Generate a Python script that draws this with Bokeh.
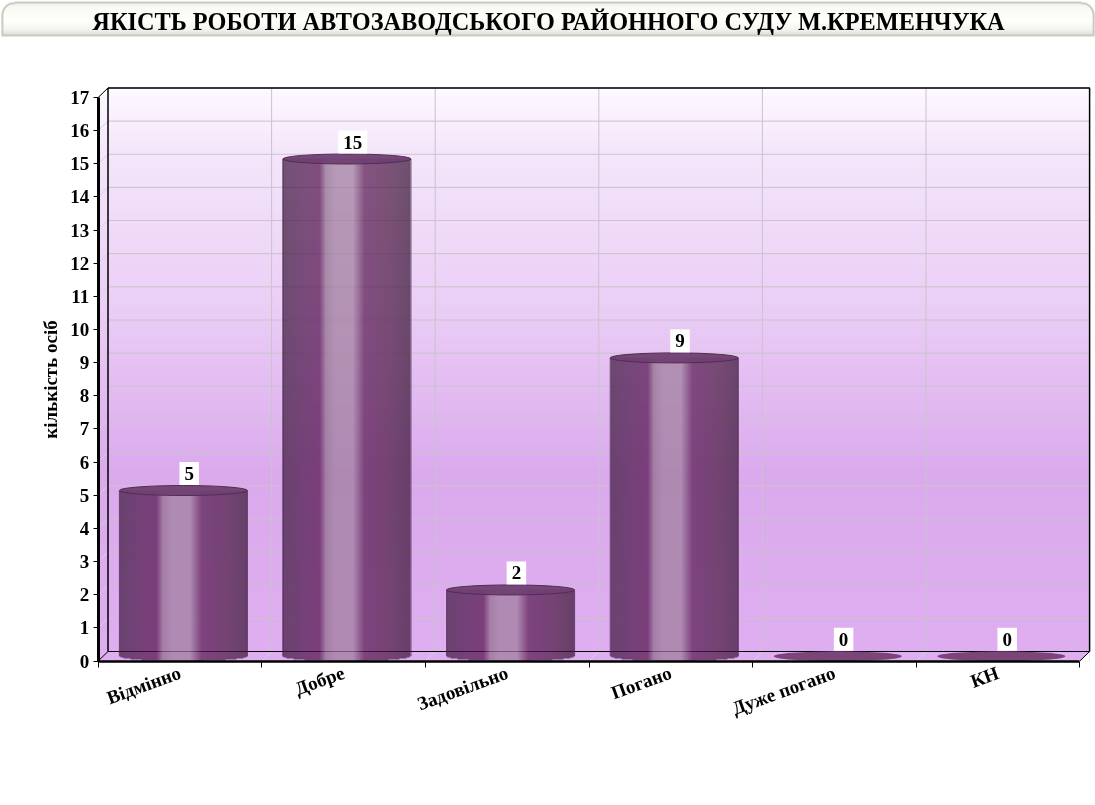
import math
import numpy as np
from bokeh.embed import file_html
from bokeh.resources import INLINE
from bokeh.models import Range1d, LinearAxis, FixedTicker
from bokeh.plotting import figure
from bokeh.core.properties import value

title_text = "ЯКІСТЬ РОБОТИ АВТОЗАВОДСЬКОГО РАЙОННОГО СУДУ М.КРЕМЕНЧУКА"
y_title = "кількість осіб"
categories = ["Відмінно", "Добре", "Задовільно", "Погано", "Дуже погано", "КН"]
counts = [5, 15, 2, 9, 0, 0]
y_ticks = list(range(0, 18))

W, H = 1095, 805
X0, SLOT = 97.7, 163.6
Y0, UNIT = 660.5, 33.15
DX, DY = 9.8, 9.5
BAR_SHIFT = 3.4
FONT = value("Liberation Serif")

def dx(px): return (px - X0) / SLOT
def dy(py): return (Y0 - py) / UNIT
def w(px): return px / SLOT
def h(px): return px / UNIT

p = figure(width=W, height=H, output_backend="svg", toolbar_location=None,
           x_range=Range1d(dx(0), dx(W)), y_range=Range1d(dy(H), dy(0)),
           x_axis_type=None, y_axis_type=None, min_border=0,
           outline_line_color=None, background_fill_color="white",
           border_fill_color="white")
p.grid.visible = False
p.styles = {"position": "fixed", "left": "0px", "top": "0px"}

def mix(a, b, t):
    return tuple(a[i] + (b[i] - a[i]) * t for i in range(3))

def hexc(c):
    return "#%02x%02x%02x" % tuple(max(0, min(255, int(round(v)))) for v in c)

def ramp(stops, t):
    for (t0, c0), (t1, c1) in zip(stops, stops[1:]):
        if t <= t1:
            return mix(c0, c1, (t - t0) / (t1 - t0) if t1 > t0 else 0)
    return stops[-1][1]

# ---- banner -------------------------------------------------------
ban_top, ban_bot, ban_l, ban_r, radius = 1, 36, 1, 1094, 13
def inset(row, r):
    return r - math.sqrt(max(0, r * r - (r - row) ** 2)) if row < r else 0
ban_stops = [(0, (240, 240, 232)), (0.1, (250, 250, 244)), (0.55, (255, 255, 250)),
             (0.85, (244, 244, 238)), (1, (226, 226, 220))]
L, R, T, B, C = [], [], [], [], []
for y in range(ban_top, ban_bot):
    row = y - ban_top
    ins = inset(row, radius)
    L.append(dx(ban_l + ins)); R.append(dx(ban_r - ins)); T.append(dy(y)); B.append(dy(min(y + 1.5, ban_bot)))
    C.append("#c9c9c1")
for y in range(ban_top + 2, ban_bot - 2):
    row = y - ban_top - 2
    ins = inset(row, radius - 2) + 2
    L.append(dx(ban_l + ins)); R.append(dx(ban_r - ins)); T.append(dy(y)); B.append(dy(min(y + 1.5, ban_bot - 2)))
    C.append(hexc(ramp(ban_stops, row / (ban_bot - ban_top - 5))))
p.quad(left=L, right=R, top=T, bottom=B, fill_color=C, line_color=None)
p.text(x=[dx(548)], y=[dy(21)], text=[title_text], text_font=FONT, text_font_style="bold",
       text_font_size="24.3px", text_align="center", text_baseline="middle", text_color="black")

# ---- wall gradient --------------------------------------------------
wall_top = 87
wall_stops = [(87, (253, 250, 255)), (150, (244, 230, 250)), (300, (235, 207, 246)),
              (470, (219, 170, 237)), (660, (222, 174, 240))]
rows = list(range(wall_top, 661))
p.quad(left=[dx(X0)] * len(rows), right=[dx(X0 + SLOT * 6 + DX)] * len(rows),
       top=[dy(r) for r in rows], bottom=[dy(661)] * len(rows),
       fill_color=[hexc(ramp(wall_stops, r)) for r in rows], line_color=None)

top_y = y_ticks[-1]
n = len(categories)
# white corners outside the box
p.patch([0, 0, w(DX)], [top_y, top_y + h(DY) + h(1), top_y + h(DY) + h(1)], fill_color="white", line_color=None)
p.patch([n, n + w(DX), n + w(DX)], [0, 0 - h(1), h(DY)], fill_color="white", line_color=None)
p.quad(left=[0], right=[n + w(DX)], top=[0], bottom=[-h(1)], fill_color="white", line_color=None)

# ---- grid -----------------------------------------------------------
GRID = "#c9c3cb"
ys = y_ticks[1:]
p.segment(x0=[w(DX)] * len(ys), x1=[n + w(DX)] * len(ys),
          y0=[t + h(DY) for t in ys], y1=[t + h(DY) for t in ys], line_color=GRID, line_width=1)
p.segment(x0=[0] * len(ys), x1=[w(DX)] * len(ys), y0=ys, y1=[t + h(DY) for t in ys],
          line_color="#d9cfe0", line_width=1)
xs = list(range(1, n))
p.segment(x0=[i + w(DX) for i in xs], x1=[i + w(DX) for i in xs],
          y0=[h(DY)] * len(xs), y1=[top_y + h(DY)] * len(xs), line_color=GRID, line_width=1)
p.segment(x0=xs, x1=[i + w(DX) for i in xs], y0=[0] * len(xs), y1=[h(DY)] * len(xs),
          line_color="#d9cfe0", line_width=1)

# ---- box outline ----------------------------------------------------
p.line([w(DX), n + w(DX), n + w(DX)], [top_y + h(DY)] * 2 + [h(DY)], line_color="black", line_width=1.5)
p.line([n, n + w(DX)], [0, h(DY)], line_color="black", line_width=1)
p.line([0, w(DX)], [top_y, top_y + h(DY)], line_color="black", line_width=1)
p.line([0, w(DX)], [0, h(DY)], line_color="black", line_width=1)
p.line([w(DX), n + w(DX)], [h(DY), h(DY)], line_color="black", line_width=1)
p.line([w(DX), w(DX)], [h(DY), top_y + h(DY)], line_color="black", line_width=1.5)

# ---- cylinders ------------------------------------------------------
BW = 128
ALPHA = 0.72
BG = (222, 174, 240)
def thru(c):
    return tuple((c[i] - (1 - ALPHA) * BG[i]) / ALPHA for i in range(3))
bar_stops = [(0, (106, 67, 112)), (0.15, (116, 66, 120)), (0.29, (123, 63, 124)),
             (0.34, (165, 127, 168)), (0.41, (176, 139, 179)), (0.55, (176, 139, 179)),
             (0.64, (126, 68, 127)), (0.85, (116, 68, 115)), (1, (103, 64, 106))]
base_px = Y0 - DY / 2
bot_px = 661
centers = [i + 0.5 + w(BAR_SHIFT) for i in range(n)]
drawn = [i for i, v in enumerate(counts) if v > 0]
for i in drawn:
    v = counts[i]
    left_px = round(X0 + SLOT * (i + 0.5) + BAR_SHIFT - BW / 2)
    top_px = round(Y0 - v * UNIT - DY / 2)
    nr = bot_px - top_px
    img = np.zeros((nr, BW), dtype=np.uint32)
    view = img.view(np.uint8).reshape((nr, BW, 4))
    for c in range(BW):
        u = (c + 0.5) / BW
        s = 2 * u - 1
        col = thru(ramp(bar_stops, u))
        end = base_px + 5 * math.sqrt(1 - s * s)
        for j in range(nr):
            py = bot_px - 1 - j
            if py + 0.5 < end:
                view[j, c] = (max(0, min(255, round(col[0]))), max(0, min(255, round(col[1]))),
                              max(0, min(255, round(col[2]))), round(255 * ALPHA))
    p.image_rgba(image=[img], x=[dx(left_px)], y=[dy(bot_px)], dw=[w(BW)], dh=[h(nr)])
for side in (-1, 1):
    p.segment(x0=[centers[i] + side * w(BW / 2) for i in drawn], x1=[centers[i] + side * w(BW / 2) for i in drawn],
              y0=[h(DY / 2) for i in drawn], y1=[counts[i] + h(DY / 2) for i in drawn],
              line_color="#4e2750", line_alpha=0.7, line_width=1)
p.ellipse(x=[centers[i] for i in drawn], y=[counts[i] + h(DY / 2) for i in drawn],
          width=w(BW), height=h(10), fill_color="#6f4072", fill_alpha=0.95,
          line_color="#552a56", line_width=1)
zero = [i for i, v in enumerate(counts) if v == 0]
p.ellipse(x=[centers[i] for i in zero], y=[h(DY / 2)] * len(zero), width=w(BW), height=h(10),
          fill_color="#7a4578", line_color=None)

# ---- value labels ---------------------------------------------------
p.text(x=[c + w(5.8) for c in centers], y=[v + h(DY / 2) for v in counts], text=[str(v) for v in counts],
       y_offset=-17, text_font=FONT, text_font_style="bold", text_font_size="19px",
       text_align="center", text_baseline="middle", text_color="black",
       background_fill_color="white", padding=5)

# ---- axes -----------------------------------------------------------
yax = LinearAxis(fixed_location=0, bounds=(0, top_y), ticker=FixedTicker(ticks=y_ticks),
                 axis_label=y_title, axis_label_text_font="Liberation Serif",
                 axis_label_text_font_style="bold", axis_label_text_font_size="19px",
                 axis_label_text_color="black", axis_label_standoff=7,
                 major_label_text_font="Liberation Serif", major_label_text_font_style="bold",
                 major_label_text_font_size="19px", major_label_text_color="black",
                 major_label_standoff=4, major_tick_in=0, major_tick_out=5, major_tick_line_color="black",
                 major_tick_line_width=1, minor_tick_line_color=None, axis_line_color="black", axis_line_width=3)
p.add_layout(yax, "left")

xax = LinearAxis(fixed_location=0, bounds=(0, n),
                 ticker=FixedTicker(ticks=[i + 0.5 for i in range(n)], minor_ticks=list(range(n + 1))),
                 major_label_overrides={i + 0.5: c for i, c in enumerate(categories)},
                 major_label_orientation=math.radians(20),
                 major_label_text_font="Liberation Serif", major_label_text_font_style="bold",
                 major_label_text_font_size="19px", major_label_text_color="black",
                 major_label_standoff=5, major_tick_line_color=None, major_tick_in=0, major_tick_out=0,
                 minor_tick_in=0, minor_tick_out=6, minor_tick_line_color="black", minor_tick_line_width=1,
                 axis_line_color="black", axis_line_width=2.5)
p.add_layout(xax, "below")

open("out.html", "w").write(file_html(p, INLINE))
